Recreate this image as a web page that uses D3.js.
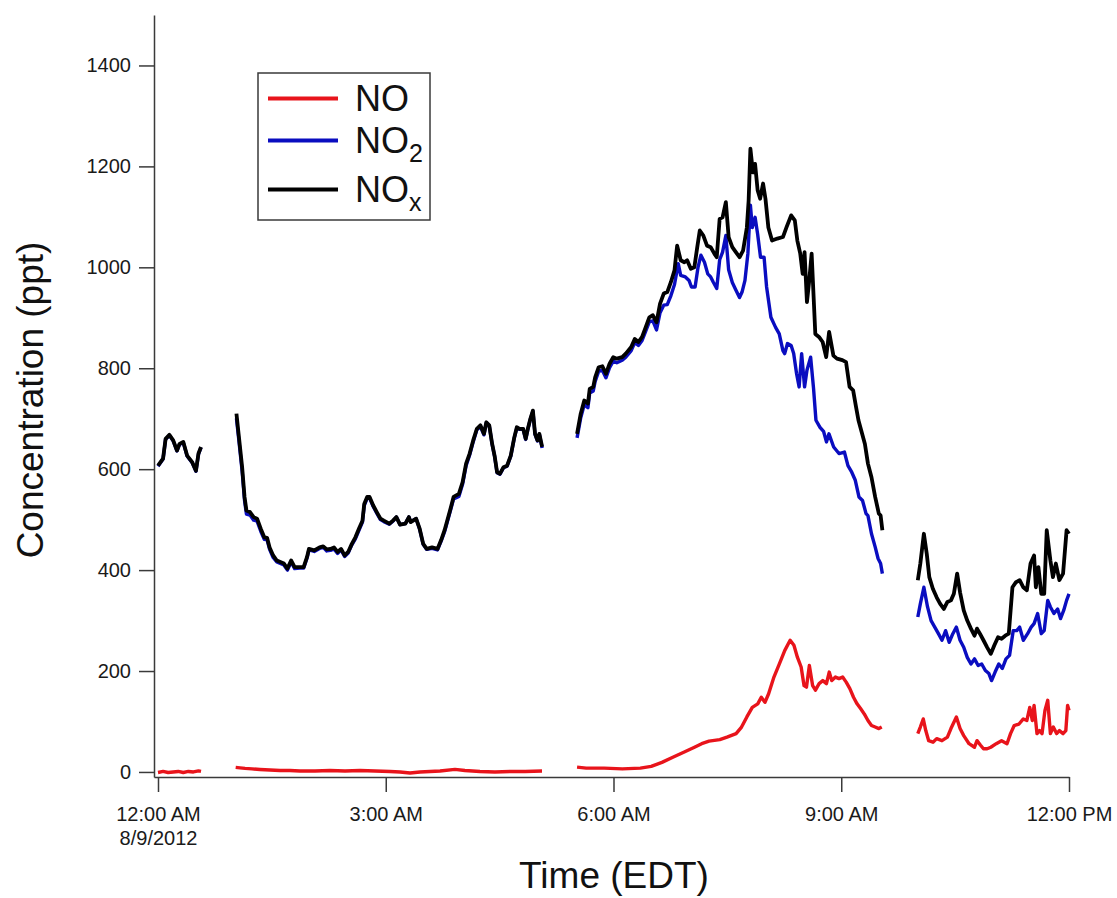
<!DOCTYPE html>
<html>
<head>
<meta charset="utf-8">
<script src="https://cdn.jsdelivr.net/npm/d3@7"></script>
<style>
  html, body { margin: 0; padding: 0; background: #ffffff; }
  svg { display: block; font-family: "Liberation Sans", Arial, Helvetica, sans-serif; }
</style>
</head>
<body>
<svg id="chart" width="1117" height="898"></svg>
<script>
// Mixing ratios (ppt) against minutes after midnight EDT on 8/9/2012.
// Each inner array is one uninterrupted run of measurements.

const NO = [
  [[0,-1],[4,1],[8,-1],[12,0],[16,1],[20,-1],[24,1],[28,0],[32,2],[34,1]],
  [[61.4,9],[64.8,8],[68.8,7],[74.3,6],[80.6,5],[88.5,4],[96.4,3],[104.3,3],[112.2,2],[124.1,2],
   [135.9,3],[147.8,2],[159.6,3],[171.5,2],[183.4,1],[191.3,0],[199.2,-2],[207.1,0],[215.0,1],[222.9,2],
   [234.7,5],[242.6,3],[254.5,1],[266.3,0],[278.2,1],[290.1,1],[303.5,2]],
  [[331.2,9.5],[338.4,7.5],[352.6,7.5],[367.0,6],[381.2,7.5],[389.8,11],[398.3,19],[406.9,29],[415.5,39],[424.0,49],
   [429.7,56],[435.5,61],[444.0,64],[449.7,69],[456.9,76],[461.2,89],[465.4,109],[469.7,128],[474.0,135],[476.8,148],
   [479.7,138],[482.6,155],[486.8,188],[491.1,214],[495.4,241],[499.6,261],[502.6,251],[505.4,227],[508.3,208],[510.6,171],
   [512.5,168],[514.8,211],[517.4,171],[519.6,162],[522.5,175],[525.4,181],[528.3,175],[530.5,198],[532.5,181],[535.4,188],
   [538.2,185],[541.1,188],[543.9,178],[546.8,165],[549.7,148],[552.5,135],[555.4,125],[558.2,115],[561.1,102],[563.9,92],
   [566.8,89],[569.7,86],[572.0,89]],
  [[600.5,76],[602.5,89],[604.8,105],[606.8,82],[609.1,62],[612.5,59],[615.4,66],[619.6,62],[623.9,69],[626.7,86],
   [631.0,109],[633.9,86],[636.8,72],[641.0,56],[645.3,49],[647.3,62],[650.1,53],[652.4,46],[655.3,46],[658.2,49],
   [662.5,56],[666.7,62],[671.0,56],[673.8,76],[676.7,92],[680.5,95],[683.9,105],[686.7,102],[689.0,128],[691.0,102],
   [692.4,132],[694.7,76],[696.7,82],[698.7,76],[701.0,122],[703.2,142],[705.3,76],[707.6,89],[710.2,76],[712.4,82],
   [715.3,76],[717.5,82],[718.9,132],[720.0,122]]
];

const NO2 = [
  [[0,606],[4,620],[6,659],[9,667],[12,656],[15,636],[17,649],[20,653],[23,626],[27,613],[30,596],[32,630],[34,643]],
  [[62.0,701],[63.7,662],[66.5,596],[68.4,538],[69.9,511],[72.7,509],[75.6,499],[78.3,497],[81.2,477],[84.0,461],
   [86.2,460],[88.2,441],[91.0,425],[93.9,416],[96.7,413],[99.5,410],[102.3,400],[105.2,416],[108.0,403],[112.2,404],
   [115.1,404],[117.8,424],[119.3,440],[123.5,437],[127.7,443],[130.6,445],[133.4,438],[136.3,439],[139.1,442],[141.9,433],
   [144.7,440],[147.5,427],[150.3,434],[153.2,450],[156.0,462],[158.8,479],[161.6,495],[163.0,528],[165.3,542],[167.2,543],
   [170.1,526],[172.9,513],[175.8,500],[178.5,496],[182.8,491],[185.7,497],[188.4,505],[191.3,490],[195.5,492],[198.3,505],
   [199.7,496],[204.0,502],[206.8,481],[209.6,451],[212.4,441],[216.6,443],[220.9,440],[223.7,457],[226.5,476],[230.8,515],
   [233.6,541],[237.8,546],[240.7,570],[243.5,607],[246.3,628],[249.1,654],[252.0,678],[254.8,685],[257.6,668],[259.5,692],
   [261.8,686],[264.1,649],[266.0,626],[268.0,593],[270.3,590],[273.1,603],[275.9,606],[278.8,626],[281.6,662],[283.6,682],
   [285.8,679],[288.6,679],[290.6,659],[292.3,679],[294.3,699],[296.3,715],[298.0,669],[299.9,656],[301.4,669],[303.6,642]],
  [[331.2,662],[334.1,702],[336.9,728],[339.8,722],[341.2,751],[344.0,755],[345.5,774],[348.3,794],[351.2,796],[354.0,781],
   [356.9,801],[359.8,814],[362.6,811],[366.9,816],[369.7,822],[374.0,835],[376.8,851],[379.7,845],[382.6,855],[385.4,873],
   [388.3,892],[391.1,894],[394.0,876],[396.8,910],[399.7,925],[402.5,926],[405.4,944],
   [408.2,966],[411.2,1007],[413.1,984],[416.8,981],[419.7,974],[421.6,961],[424.5,961],[426.8,1000],[429.1,1024],[431.9,1010],
   [434.5,987],[436.8,981],[438.8,971],[441.6,958],[443.9,1015],[446.2,1030],[448.8,1063],[451.0,995],[453.9,970],[456.7,955],
   [459.6,940],[461.6,951],[463.9,974],[466.2,1027],[468.2,1123],[469.7,1079],[471.9,1099],[473.9,1066],[476.2,1020],[479.0,1020],
   [481.0,961],[484.4,901],[488.1,881],[491.0,868],[493.9,835],[495.3,829],[497.5,849],[500.4,845],[502.4,829],[504.7,789],
   [506.7,763],[508.7,829],[511.0,763],[512.9,796],[515.8,822],[518.1,760],[520.0,697],[523.2,683],[526.0,675],[528.3,654],
   [530.3,670],[534.0,644],[538.2,631],[542.5,634],[545.3,607],[548.3,594],[551.1,578],[554.0,545],[556.8,538],[559.6,512],
   [561.1,508],[563.9,472],[566.8,446],[569.1,423],[571.1,413],[572.5,393]],
  [[600.5,307],[602.5,333],[605.3,366],[608.2,327],[611.0,300],[613.9,287],[616.8,274],[619.6,261],[622.5,280],[625.3,257],
   [628.2,274],[631.0,287],[633.9,261],[636.8,247],[639.6,227],[642.5,214],[645.3,224],[648.2,211],[651.0,214],[653.9,201],
   [656.7,195],[658.8,181],[661.6,198],[664.5,214],[667.3,205],[670.2,224],[673.0,231],[675.9,280],[678.7,280],[681.0,287],
   [683.9,261],[687.3,274],[690.1,287],[692.4,294],[695.2,314],[698.1,274],[700.4,280],[703.2,340],[705.3,327],[708.1,314],
   [711.0,323],[713.3,304],[715.8,320],[718.1,340],[720.0,353]]
];

const NOx = [
  [[0,607],[4,621],[6,660],[9,668],[12,657],[15,637],[17,650],[20,654],[23,627],[27,614],[30,597],[32,631],[34,644]],
  [[62.0,710],[63.7,670],[66.5,604],[68.4,545],[69.9,518],[72.7,515],[75.6,505],[78.3,502],[81.2,482],[84.0,465],
   [86.2,464],[88.2,445],[91.0,429],[93.9,419],[96.7,416],[99.5,413],[102.3,403],[105.2,419],[108.0,406],[112.2,406],
   [115.1,406],[117.8,426],[119.3,442],[123.5,439],[127.7,445],[130.6,447],[133.4,441],[136.3,442],[139.1,445],[141.9,436],
   [144.7,442],[147.5,429],[150.3,436],[153.2,452],[156.0,465],[158.8,482],[161.6,498],[163.0,531],[165.3,545],[167.2,545],
   [170.1,528],[172.9,515],[175.8,502],[178.5,498],[182.8,492],[185.7,498],[188.4,505],[191.3,490],[195.5,492],[198.3,505],
   [199.7,495],[204.0,502],[206.8,482],[209.6,452],[212.4,442],[216.6,445],[220.9,442],[223.7,459],[226.5,479],[230.8,518],
   [233.6,545],[237.8,551],[240.7,574],[243.5,611],[246.3,631],[249.1,657],[252.0,680],[254.8,687],[257.6,670],[259.5,693],
   [261.8,687],[264.1,650],[266.0,627],[268.0,594],[270.3,591],[273.1,604],[275.9,607],[278.8,627],[281.6,663],[283.6,683],
   [285.8,680],[288.6,680],[290.6,660],[292.3,680],[294.3,700],[296.3,716],[298.0,670],[299.9,657],[301.4,670],[303.6,644]],
  [[331.2,670],[334.1,710],[336.9,736],[339.8,730],[341.2,759],[344.0,763],[345.5,782],[348.3,802],[351.2,804],[354.0,789],
   [356.9,809],[359.8,822],[362.6,819],[366.9,822],[369.7,829],[374.0,842],[376.8,858],[379.7,852],[382.6,862],[385.4,881],
   [388.3,901],[391.1,905],[394.0,891],[396.8,928],[399.7,948],[402.5,951],[405.4,971],[408.2,994],[410.3,1043],[413.1,1014],
   [416.0,1010],[418.2,1014],[421.1,997],[423.9,1000],[426.2,1040],[428.2,1073],[431.0,1063],[433.9,1043],[436.8,1040],[439.7,1027],
   [441.6,1020],[443.9,1096],[446.2,1099],[448.8,1129],[451.0,1060],[453.9,1040],[456.7,1030],[459.6,1020],[462.4,1033],[465.4,1079],
   [466.8,1132],[468.2,1235],[470.2,1188],[471.9,1205],[473.9,1153],[475.9,1136],[478.2,1166],[480.1,1136],[482.4,1079],[485.3,1053],
   [489.5,1057],[493.9,1060],[496.7,1079],[500.4,1103],[503.3,1093],[505.3,1053],[507.6,1027],[509.5,987],[511.0,1030],[512.9,931],
   [514.7,974],[516.6,1027],[519.5,868],[522.4,862],[525.3,852],[528.1,822],[530.4,872],[533.8,825],[536.6,819],[540.9,816],
   [543.8,812],[546.6,763],[549.4,756],[551.5,726],[553.6,697],[558.7,650],[561.1,611],[563.9,584],[566.8,545],[569.7,512],
   [571.1,508],[572.5,479]],
  [[600.5,380],[602.5,413],[605.3,472],[607.6,432],[609.6,386],[612.4,363],[615.4,346],[618.2,333],[621.1,323],[623.9,337],
   [626.7,340],[629.0,353],[631.6,393],[633.9,356],[636.8,320],[639.6,300],[642.5,284],[645.3,270],[647.3,284],[649.6,274],
   [652.4,261],[655.3,247],[658.2,234],[661.0,251],[663.9,267],[666.7,264],[669.6,270],[672.4,274],[675.3,366],[678.1,376],
   [681.0,380],[683.9,366],[686.7,360],[689.6,413],[692.4,429],[693.8,366],[695.8,406],[698.1,353],[700.4,353],[702.4,479],
   [705.3,419],[707.3,386],[709.6,413],[712.4,380],[715.3,393],[718.1,479],[720.0,472]]
];

// Axis ticks and labels
const tickHours = [0, 3, 6, 9, 12];
const tickLabels = [["12:00 AM", "8/9/2012"], ["3:00 AM"], ["6:00 AM"], ["9:00 AM"], ["12:00 PM"]];
const yTicks = [0, 200, 400, 600, 800, 1000, 1200, 1400];

// Legend entries: base text and subscript
const legendNames = [["NO", ""], ["NO", "2"], ["NO", "x"]];
const seriesColors = ["#e8141b", "#0a0dc0", "#000000"];

const svg = d3.select("#chart");
const W = 1117, H = 898;
const plot = { left: 154, right: 1069, top: 15, bottom: 777 };

const day0 = new Date(2012, 7, 9, 0, 0, 0);
const atMinute = m => new Date(day0.getTime() + m * 60000);

const x = d3.scaleTime()
  .domain([atMinute(-3.16), atMinute(720)])
  .range([plot.left, plot.right]);

const y = d3.scaleLinear()
  .domain([-10, 1500])
  .range([plot.bottom, plot.top]);

const line = d3.line()
  .x(d => x(atMinute(d[0])))
  .y(d => y(d[1]));

// Traces: NO underneath, then NO2, then NOx on top
const traces = [
  { runs: NO,  color: seriesColors[0], width: 3.4 },
  { runs: NO2, color: seriesColors[1], width: 3.4 },
  { runs: NOx, color: seriesColors[2], width: 3.8 }
];

const gLines = svg.append("g");
traces.forEach(t => {
  gLines.append("g")
    .selectAll("path")
    .data(t.runs)
    .join("path")
    .attr("d", line)
    .attr("fill", "none")
    .attr("stroke", t.color)
    .attr("stroke-width", t.width)
    .attr("stroke-linejoin", "round")
    .attr("stroke-linecap", "butt");
});

// Axes
const axisColor = "#3a3a3a";
const xAxis = d3.axisBottom(x)
  .tickValues(tickHours.map(h => atMinute(h * 60)))
  .tickSize(15)
  .tickSizeOuter(0)
  .tickPadding(15)
  .tickFormat((d, i) => tickLabels[i][0]);

const gx = svg.append("g")
  .attr("transform", `translate(0,${plot.bottom})`)
  .call(xAxis);

gx.selectAll(".tick text").each(function (d, i) {
  const extra = tickLabels[i].slice(1);
  const t = d3.select(this);
  extra.forEach(s => {
    t.append("tspan")
      .attr("x", 0)
      .attr("dy", "1.2em")
      .text(s);
  });
});

const yAxis = d3.axisLeft(y)
  .tickValues(yTicks)
  .tickSize(15)
  .tickSizeOuter(0)
  .tickPadding(8)
  .tickFormat(d3.format("d"));

const gy = svg.append("g")
  .attr("transform", `translate(${plot.left},0)`)
  .call(yAxis);

[gx, gy].forEach(g => {
  g.select(".domain").attr("stroke", axisColor).attr("stroke-width", 1.5);
  g.selectAll(".tick line").attr("stroke", axisColor).attr("stroke-width", 1.5);
  g.selectAll(".tick text")
    .attr("fill", "#1a1a1a")
    .style("font-size", "20px")
    .style("font-family", "\"Liberation Sans\", Arial, Helvetica, sans-serif");
});

// Axis titles
svg.append("text")
  .attr("transform", "translate(43,400) rotate(-90)")
  .attr("text-anchor", "middle")
  .style("font-size", "37px")
  .attr("fill", "#111")
  .text("Concentration (ppt)");

svg.append("text")
  .attr("x", 614)
  .attr("y", 888)
  .attr("text-anchor", "middle")
  .style("font-size", "37px")
  .attr("fill", "#111")
  .text("Time (EDT)");

// Legend
const legend = svg.append("g");
legend.append("rect")
  .attr("x", 258).attr("y", 73)
  .attr("width", 172).attr("height", 147)
  .attr("fill", "#fff")
  .attr("stroke", axisColor)
  .attr("stroke-width", 1.5);

const legendBaselines = [111, 153, 202];
legendNames.forEach((nm, i) => {
  const base = legendBaselines[i];
  legend.append("line")
    .attr("x1", 268).attr("x2", 338)
    .attr("y1", base - 12.5).attr("y2", base - 12.5)
    .attr("stroke", seriesColors[i])
    .attr("stroke-width", 3.8);
  const txt = legend.append("text")
    .attr("x", 355).attr("y", base)
    .style("font-size", "36px")
    .attr("fill", "#111")
    .text(nm[0]);
  if (nm[1]) {
    txt.append("tspan")
      .attr("dy", 9)
      .style("font-size", "25px")
      .text(nm[1]);
  }
});
</script>
</body>
</html>
